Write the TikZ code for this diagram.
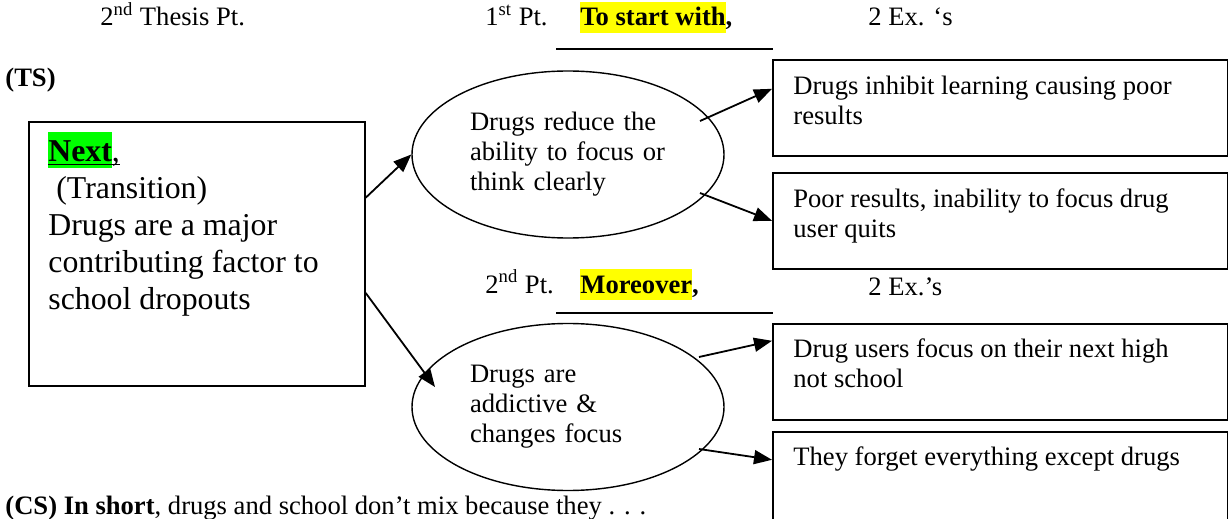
\documentclass[tikz,border=0pt]{standalone}
\usepackage{fontspec}
\setmainfont{Liberation Serif}
\usetikzlibrary{arrows.meta}
\usetikzlibrary{shapes.geometric}

\definecolor{hlgreen}{RGB}{0,255,0}
\definecolor{hlyellow}{RGB}{255,255,0}
\newcommand\hilite[3]{{\setlength\fboxsep{0pt}\colorbox{#1}{\rule[-3.5pt]{0pt}{#2}#3}}}
\newcommand\undl[1]{\setbox0=\hbox{#1}\rlap{\copy0}\rule[-1.8pt]{\wd0}{0.75pt}}

\begin{document}
\begin{tikzpicture}[x=0.5pt, y=-0.5pt,
    font=\fontsize{13.3pt}{15pt}\selectfont,
    txt/.style={inner sep=0pt, anchor=base west},
    para/.style={inner sep=0pt, anchor=north west, align=left},
    exbox/.style={draw, line width=0.8pt, minimum width=227.5pt, minimum height=48pt, inner sep=0pt, anchor=north west},
    ptoval/.style={draw, ellipse, line width=0.7pt, minimum width=156pt, minimum height=83.5pt, inner sep=0pt, text width=98pt, align=left},
    arr/.style={line width=0.9pt, -{Triangle[length=9pt, width=7pt]}}]
      \path[use as bounding box, clip] (0,0) rectangle (1228,519);

      \node[txt] (thesis) at (100,26) {2\textsuperscript{nd} Thesis Pt.};
      \node[txt] (ts) at (5,87) {\textbf{(TS)}};
      \node[draw, line width=0.8pt, minimum width=168pt, minimum height=132pt, inner sep=0pt, anchor=north west] (main) at (28,121) {};
      \node[para, font=\fontsize{15.9pt}{18.5pt}\selectfont] (maintxt) at (48,132) {\undl{\hilite{hlgreen}{18pt}{\textbf{Next}},}\\\hspace*{4pt}(Transition)\\Drugs are a major\\contributing factor to\\school dropouts};

      \node[ptoval] (e1) at (568,154.5) {Drugs reduce the\\ability to focus or\\think clearly};
      \node[ptoval] (e2) at (568,407) {Drugs are\\addictive \&\\changes focus};

      \node[txt] (p1) at (485,26) {1\textsuperscript{st} Pt.};
      \node[txt] (start) at (580,26) {\hilite{hlyellow}{15.5pt}{\textbf{To start with}}\textbf{,}};
      \node[txt] (exa) at (868,26) {2 Ex. ‘s};
      \node[txt] (p2) at (485,293) {2\textsuperscript{nd} Pt.};
      \node[txt] (more) at (580,293) {\hilite{hlyellow}{15.5pt}{\textbf{Moreover}}\textbf{,}};
      \node[txt] (exb) at (868,295) {2 Ex.’s};
      \node[txt] (cs) at (5,514) {\textbf{(CS) In short}, drugs and school don’t mix because they . . .};

      \draw[line width=0.8pt] (556,49) -- (773,49);
      \draw[line width=0.8pt] (556,313) -- (773,313);

      \node[exbox] (ex1) at (772,59) {};
      \node[exbox] (ex2) at (772,172) {};
      \node[exbox] (ex3) at (772,323) {};
      \node[exbox] (ex4) at (772,431) {};
      \node[para] (ex1t) at (793,73) {\strut Drugs inhibit learning causing poor\\results};
      \node[para] (ex2t) at (793,186) {\strut Poor results, inability to focus drug\\user quits};
      \node[para] (ex3t) at (793,336) {\strut Drug users focus on their next high\\not school};
      \node[para] (ex4t) at (793,444) {\strut They forget everything except drugs};

      \draw[arr] ([yshift=28pt]main.east) -- (e1.west);
      \draw[arr] ([yshift=-19.5pt]main.east) -- ([xshift=-66.5pt, yshift=10pt]e2.center);
      \draw[arr] ([xshift=66pt, yshift=16.75pt]e1.center) -- ([yshift=9.5pt]ex1.west);
      \draw[arr] ([xshift=66pt, yshift=-19.25pt]e1.center) -- (ex2.west);
      \draw[arr] ([xshift=65.5pt, yshift=25pt]e2.center) -- ([yshift=15.5pt]ex3.west);
      \draw[arr] ([xshift=65.5pt, yshift=-21pt]e2.center) -- ([yshift=10pt]ex4.west);
\end{tikzpicture}
\end{document}
